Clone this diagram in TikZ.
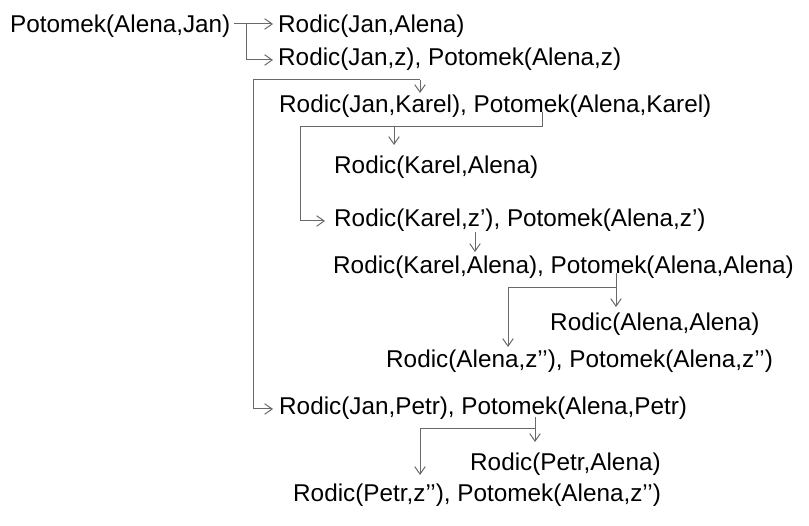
\documentclass[tikz,border=0pt]{standalone}
\usepackage{fontspec}
\setmainfont{Liberation Sans}
\usetikzlibrary{arrows.meta,calc}
\definecolor{linkgray}{RGB}{105,105,105}
\tikzset{
  lit/.style={anchor=base west,inner sep=0pt,font=\fontsize{24.3}{28}\selectfont},
  link/.style={draw=linkgray,line width=1pt},
  linkarr/.style={link,-{Straight Barb[length=7.5pt,width=10.5pt,line width=1pt]}}
}
\begin{document}
\begin{tikzpicture}[x=1pt,y=-1pt]
\useasboundingbox (0,0) rectangle (809,526);

% goals and literals of the resolution tree
\node[lit] (p0) at (10,33)  {Potomek(Alena,Jan)};
\node[lit] (r1) at (278,33) {Rodic(Jan,Alena)};
\node[lit] (g1) at (278,66) {Rodic(Jan,z), Potomek(Alena,z)};
\node[lit] (g2) at (279,113) {Rodic(Jan,Karel), Potomek(Alena,Karel)};
\node[lit] (r2) at (334,174) {Rodic(Karel,Alena)};
\node[lit] (g3) at (334,227) {Rodic(Karel,z’), Potomek(Alena,z’)};
\node[lit] (g4) at (333,274) {Rodic(Karel,Alena), Potomek(Alena,Alena)};
\node[lit] (r3) at (550,331) {Rodic(Alena,Alena)};
\node[lit] (g5) at (386,368) {Rodic(Alena,z’’), Potomek(Alena,z’’)};
\node[lit] (g6) at (279,415) {Rodic(Jan,Petr), Potomek(Alena,Petr)};
\node[lit] (r4) at (470,471) {Rodic(Petr,Alena)};
\node[lit] (g7) at (293,502) {Rodic(Petr,z’’), Potomek(Alena,z’’)};

% junction points of the branches
\coordinate (fA) at (246,24);
\coordinate (bR) at (420,80);
\coordinate (bL) at (253,80);
\coordinate (cT) at (542,112);
\coordinate (cR) at (542,127);
\coordinate (cM) at (394,127);
\coordinate (cL) at (300,127);
\coordinate (dT) at (475,232);
\coordinate (eT) at (616,273);
\coordinate (eR) at (616,288);
\coordinate (eL) at (508,288);
\coordinate (fT) at (535,417);
\coordinate (fR) at (535,429);
\coordinate (fL) at (420,429);

% arrow ends next to the target literals
\coordinate (t1) at ($(r1.base west)+(-5,-9)$);
\coordinate (t2) at ($(g1.base west)+(-5,-6)$);
\coordinate (t3) at ($(g2.base west)+(0,-20)$);
\coordinate (t4) at ($(g6.base west)+(-6,-6)$);
\coordinate (t5) at ($(r2.base west)+(0,-29)$);
\coordinate (t6) at ($(g3.base west)+(-9,-6)$);
\coordinate (t7) at ($(g4.base west)+(0,-22)$);
\coordinate (t8) at ($(r3.base west)+(0,-24)$);
\coordinate (t9) at ($(g5.base west)+(0,-21)$);
\coordinate (t10) at ($(r4.base west)+(0,-29)$);
\coordinate (t11) at ($(g7.base west)+(0,-27)$);

% Potomek(Alena,Jan)
\draw[linkarr] ($(p0.base east)+(3,-9)$) -- (t1);
\draw[linkarr] (fA) |- (t2);

% Rodic(Jan,z), Potomek(Alena,z)
\draw[linkarr] (bR) -- (bL) |- (t4);
\draw[linkarr] (bR) -- (bR |- t3);

% Rodic(Jan,Karel), Potomek(Alena,Karel)
\draw[linkarr] (cT) -- (cR) -- (cL) |- (t6);
\draw[linkarr] (cM) -- (cM |- t5);

% Rodic(Karel,z'), Potomek(Alena,z')
\draw[linkarr] (dT) -- (dT |- t7);

% Rodic(Karel,Alena), Potomek(Alena,Alena)
\draw[linkarr] (eT) -- (eT |- t8);
\draw[linkarr] (eR) -- (eL) -- (eL |- t9);

% Rodic(Jan,Petr), Potomek(Alena,Petr)
\draw[linkarr] (fT) -- (fT |- t10);
\draw[linkarr] (fR) -- (fL) -- (fL |- t11);
\end{tikzpicture}
\end{document}
